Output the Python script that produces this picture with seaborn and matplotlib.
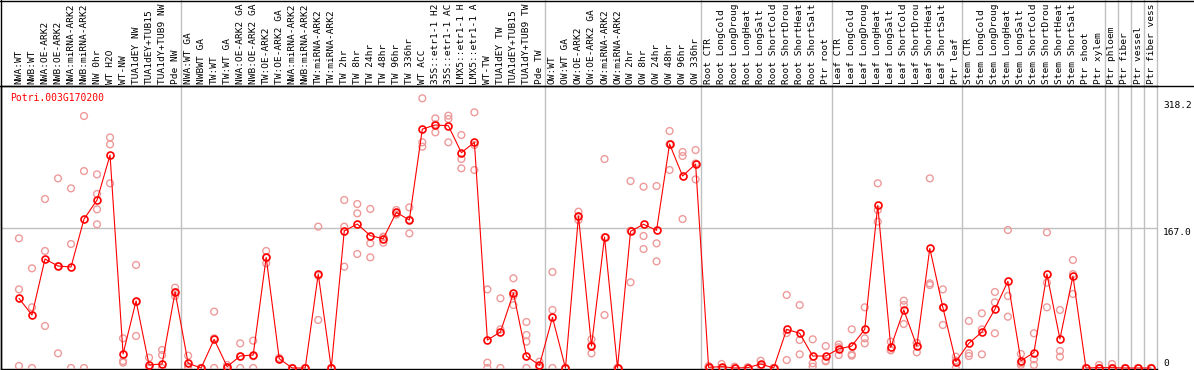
import pandas as pd
import numpy as np
import matplotlib
matplotlib.use("Agg")
import matplotlib.pyplot as plt
from matplotlib.lines import Line2D
import matplotlib.transforms as mtransforms
import seaborn as sns

sns.set_style("white")
plt.rcParams['font.family'] = ['DejaVu Sans Mono']

gene = "Potri.003G170200"

# sample names as far as they are visible in the header (the rest is clipped)
samples = [
    "NWA:WT", "NWB:WT", "NWA:OE-ARK2", "NWB:OE-ARK2", "NWA:miRNA-ARK2", "NWB:miRNA-ARK2",
    "NW 0hr", "WT H2O", "WT-NW", "TUA1dEY NW", "TUA1dEY+TUB15", "TUA1dY+TUB9 NW", "Pde NW",
    "NWA:WT GA", "NWBWT GA", "TW:WT", "TW:WT GA", "NWA:OE-ARK2 GA", "NWB:OE-ARK2 GA",
    "TW:OE-ARK2", "TW:OE-ARK2 GA", "NWA:miRNA-ARK2", "NWB:miRNA-ARK2", "TW:miRNA-ARK2",
    "TW:miRNA-ARK2", "TW 2hr", "TW 8hr", "TW 24hr", "TW 48hr", "TW 96hr", "TW 336hr",
    "WT ACC", "35S::etr1-1 H2", "35S::etr1-1 AC", "LMX5::etr1-1 H", "LMX5::etr1-1 A",
    "WT-TW", "TUA1dEY TW", "TUA1dEY+TUB15", "TUA1dY+TUB9 TW", "Pde TW",
    "OW:WT", "OW:WT GA", "OW:OE-ARK2", "OW:OE-ARK2 GA", "OW:miRNA-ARK2", "OW:miRNA-ARK2",
    "OW 2hr", "OW 8hr", "OW 24hr", "OW 48hr", "OW 96hr", "OW 336hr",
    "Root CTR", "Root LongCold", "Root LongDroug", "Root LongHeat", "Root LongSalt",
    "Root ShortCold", "Root ShortDrou", "Root ShortHeat", "Root ShortSalt", "Ptr root",
    "Leaf CTR", "Leaf LongCold", "Leaf LongDroug", "Leaf LongHeat", "Leaf LongSalt",
    "Leaf ShortCold", "Leaf ShortDrou", "Leaf ShortHeat", "Leaf ShortSalt", "Ptr leaf",
    "Stem CTR", "Stem LongCold", "Stem LongDroug", "Stem LongHeat", "Stem LongSalt",
    "Stem ShortCold", "Stem ShortDrou", "Stem ShortHeat", "Stem ShortSalt", "Ptr shoot",
    "Ptr xylem", "Ptr phloem", "Ptr fiber", "Ptr vessel", "Ptr fiber vess",
]

# last sample index of each group (a grey separator follows it)
group_ends = [12, 40, 52, 62, 72, 83, 84, 85, 86, 87]

means = [
    83.1, 63.2, 130, 121.7, 120.5, 177.7, 200.4, 254, 16.7, 80, 3.6, 4.8, 90.7,
    5.6, 0, 34.2, 1.6, 14.3, 15.5, 132, 11.1, 0, 0, 112, 0, 163.4, 171.8, 157.9, 154.3,
    185.7, 176.5, 285, 289.9, 289, 256.9, 269.2, 33.4, 42.9, 89.5, 14.3, 3.2,
    60.4, 0, 181.3, 26.2, 156.3, 0, 163, 171.4, 164.2, 267.2, 229, 243.3,
    0.8, 1.6, 0, 0.4, 4.8, 0, 46.1, 41.4, 14.3, 14.3,
    22.7, 26.2, 46.1, 194, 24.7, 69.2, 26.2, 142.7, 72.4, 7.6,
    29.4, 42.9, 70, 103.4, 8.7, 18.3, 112.1, 34.6, 109.7, 0, 0.4,
    0.4, 0, 0, 0,
]

replicates = [
    [154.7, 93.8, 2.4], [118.9, 72.4, 0], [201.6, 139.6, 50.1], [226.2, 17.5, 121.4],
    [214.3, 147.9, 0], [300.6, 234.9, 0], [231, 207.6, 189.3, 171.4], [275.1, 266.8, 220.3],
    [35.4, 6.4, 8.3], [122.9, 38.2, 78.9], [12.3, 0, 0], [21.5, 15.5, 0], [95.8, 85.9, 90.4],
    [14.7, 0, 2], [0, 0, 0], [67.2, 35.4, 0], [3.6, 0, 1], [29.4, 0, 13.5], [32.6, 0, 14],
    [139.6, 124.9, 131.5], [10.3, 12, 11], [0, 0, 0], [0, 0, 0], [168.6, 57.3, 110],
    [0, 0, 0], [200.4, 168.6, 120.9], [195.6, 184.5, 136], [189.7, 148.7, 132],
    [156.7, 149.5, 156], [188.5, 185, 183], [191.6, 160.6, 177], [321.7, 269.2, 264],
    [297.8, 281.1, 290.8], [301, 297, 269.2], [277.9, 249.3, 238.2], [305, 236.2, 266],
    [93.8, 6.4, 0], [83.1, 46.1, 0], [107, 75.1, 86], [54.9, 39.4, 31.4, 0], [7.6, 1, 0],
    [114.5, 69.2, 0], [0, 0, 0], [186.5, 176.5, 181], [34.2, 17.5, 27], [249.3, 63.2, 156],
    [0, 0, 0], [223, 102.2, 163.8], [216.3, 157.5, 141.9], [217.1, 148.7, 127.2],
    [282.7, 236.2, 267], [257.7, 252.9, 177.7], [260, 225, 244],
    [2.4, 0, 0], [4.8, 0, 0], [1.6, 0, 0], [0, 1, 0], [8.7, 3, 2.7], [0, 0, 0],
    [87.1, 9.5, 41.7], [75.1, 33.4, 16.3], [34.2, 5.6, 1.6], [26.2, 8.7, 8],
    [24.7, 15.5, 28], [46.1, 16.3, 14.7], [72.4, 35.4, 29.4], [220.3, 188.5, 174.6],
    [31.4, 21.5, 21], [80.3, 75.1, 52.5], [30.2, 18.7, 29.7], [226.2, 101, 99],
    [93.8, 51.3, 72], [13.5, 0, 9],
    [56.1, 17.5, 14.3], [65.2, 46.1, 16.3], [90.7, 78.3, 41.4], [164.6, 85.9, 61.2],
    [16.7, 3.6, 6], [41.4, 10.3, 3.6], [161.8, 101.8, 72.4], [69.2, 20.3, 13.5],
    [128.8, 88.3, 112], [0, 0, 0], [3.6, 0, 0],
    [4.8, 0, 0], [0, 0, 0], [0, 0, 0], [0, 0, 0],
]

ytick_vals = [318.2, 167.0, 0]
ytick_text = ["318.2", "167.0", "0"]

pos = np.arange(len(samples))
mean_df = pd.DataFrame({"pos": pos, "value": means})
rep_df = pd.DataFrame(
    [(i, v) for i, reps in enumerate(replicates) for v in reps],
    columns=["pos", "value"],
)

W, H = 1194, 370
fig = plt.figure(figsize=(W / 100, H / 100), dpi=100)
ax = fig.add_axes([1 / W, 1 / H, 1156 / W, 283 / H])

sns.scatterplot(data=rep_df, x="pos", y="value", ax=ax, marker="o", s=24,
                color="#ee9a9a", facecolor="none", edgecolor="#ee9a9a",
                linewidth=1.0, zorder=3)
sns.lineplot(data=mean_df, x="pos", y="value", ax=ax, color="#ff0000", lw=0.8,
             marker="o", markersize=5, markerfacecolor="none",
             markeredgecolor="#ff0000", markeredgewidth=1.2, zorder=4)

ax.set_xlim(-1.38, 87.46)
ax.set_ylim(-1.2, 336.4)
ax.set_xlabel("")
ax.set_ylabel("")
ax.set_xticks([])
ax.set_yticks([])

for side in ["left", "bottom", "top"]:
    ax.spines[side].set_color("black")
    ax.spines[side].set_linewidth(1.0)
ax.spines["right"].set_visible(False)

ax.axhline(167.0, color="#c0c0c0", lw=1.0, zorder=1)
for g in group_ends:
    ax.axvline(g + 0.45, ymin=0, ymax=1.31, color="#c0c0c0", lw=1.0,
               clip_on=False, zorder=1)

# header box lines
fig.add_artist(Line2D([0, 1], [1 - 0.5 / H, 1 - 0.5 / H], color="black", lw=1.0))
fig.add_artist(Line2D([0, 1], [1 - 85.5 / H, 1 - 85.5 / H], color="black", lw=1.0))
fig.add_artist(Line2D([1 / W, 1 / W], [1 / H, 1], color="black", lw=1.0))

trans = mtransforms.blended_transform_factory(ax.transData, ax.transAxes)
for i, name in enumerate(samples):
    ax.text(i, 1 + 2.5 / 283, name, rotation=90, ha="center", va="bottom",
            fontsize=6.8, color="black", transform=trans, clip_on=False)

ax.text(0.008, 0.975, gene, transform=ax.transAxes, ha="left", va="top",
        fontsize=7, color="#ff0000")

ytrans = mtransforms.blended_transform_factory(ax.transAxes, ax.transData)
for v, t in zip(ytick_vals, ytick_text):
    ax.text(1 + 6 / 1156, v, t, transform=ytrans, ha="left",
            va="bottom" if v == 0 else "top", fontsize=6.8, color="black",
            clip_on=False)

fig.savefig("out.png", dpi=100)
